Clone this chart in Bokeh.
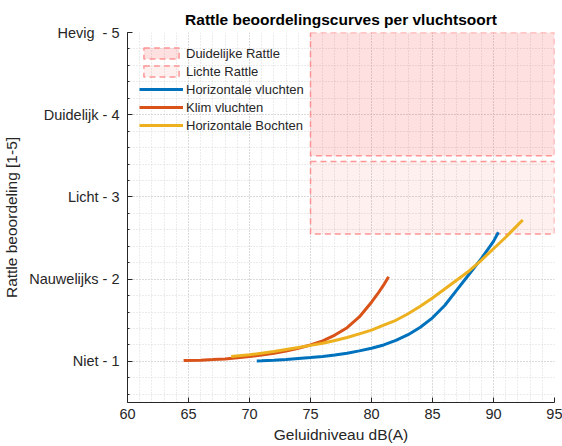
from bokeh.plotting import figure
from bokeh.models import FixedTicker, Range1d, Legend, LegendItem
from bokeh.embed import file_html
from bokeh.resources import INLINE

# ---- data ----
horiz_x = [70.6, 71, 72, 73, 74, 75, 76, 77, 78, 79, 80, 81, 82, 83, 84, 85, 86, 87, 88, 89, 90, 90.4]
horiz_y = [1.005, 1.007, 1.015, 1.024, 1.035, 1.046, 1.06, 1.078, 1.10, 1.128, 1.16, 1.20, 1.255,
           1.325, 1.415, 1.53, 1.68, 1.87, 2.06, 2.25, 2.46, 2.57]

klim_x = [64.6, 66, 67, 68, 69, 70, 71, 72, 73, 74, 75, 76, 77, 78, 79, 80, 80.5, 81, 81.4]
klim_y = [1.01, 1.015, 1.022, 1.03, 1.043, 1.06, 1.078, 1.10, 1.127, 1.16, 1.20, 1.25, 1.32,
          1.41, 1.54, 1.72, 1.82, 1.93, 2.03]

bocht_x = [68.5, 70, 71, 72, 73, 74, 75, 76, 77, 78, 79, 80, 81, 82, 83, 84, 85, 86, 87, 88, 89, 90, 91, 92, 92.4]
bocht_y = [1.06, 1.08, 1.10, 1.12, 1.145, 1.17, 1.195, 1.22, 1.255, 1.29, 1.335, 1.38, 1.44, 1.50,
           1.58, 1.67, 1.77, 1.88, 1.99, 2.10, 2.23, 2.37, 2.51, 2.66, 2.72]

zone_names = ["Duidelijke Rattle", "Lichte Rattle"]
zone_left = [75, 75]
zone_right = [95, 95]
zone_bottom = [3.5, 2.55]
zone_top = [5.0, 3.43]

x_ticks = [60, 65, 70, 75, 80, 85, 90, 95]
y_ticks = [1, 2, 3, 4, 5]
y_tick_labels = ["Niet - 1", "Nauwelijks - 2", "Licht - 3", "Duidelijk - 4", "Hevig \u00a0- 5"]

# ---- figure ----
FONT = "Liberation Sans"
TXT = "#262626"

p = figure(width=562, height=446, output_backend="svg", toolbar_location=None,
           x_range=Range1d(60, 95), y_range=Range1d(0.5, 5.0),
           min_border_left=126, min_border_right=8, min_border_top=32, min_border_bottom=44)
p.outline_line_color = None
p.background_fill_color = "white"

p.title.text = "Rattle beoordelingscurves per vluchtsoort"
p.title.text_font = FONT
p.title.text_font_size = "15.5px"
p.title.text_font_style = "bold"
p.title.align = "center"
p.title.text_color = "black"

p.xaxis.ticker = FixedTicker(ticks=x_ticks, minor_ticks=list(range(60, 96)))
p.yaxis.ticker = FixedTicker(ticks=y_ticks, minor_ticks=[round(0.6 + 0.2 * i, 2) for i in range(23)])
p.yaxis.major_label_overrides = {t: l for t, l in zip(y_ticks, y_tick_labels)}

for ax in (p.xaxis, p.yaxis):
    ax.axis_line_color = TXT
    ax.major_tick_line_color = TXT
    ax.minor_tick_line_color = TXT
    ax.major_tick_in = 5
    ax.major_tick_out = 0
    ax.minor_tick_in = 2
    ax.minor_tick_out = 0
    ax.major_label_text_font = FONT
    ax.major_label_text_font_size = "14.5px"
    ax.major_label_text_color = TXT
    ax.axis_label_text_font = FONT
    ax.axis_label_text_font_size = "15.5px"
    ax.axis_label_text_font_style = "normal"
    ax.axis_label_text_color = TXT
p.xaxis.minor_tick_line_color = None
p.xaxis.axis_label = "Geluidniveau dB(A)"
p.yaxis.axis_label = "Rattle beoordeling [1-5]"
p.xaxis.major_label_standoff = 6
p.xaxis.axis_label_standoff = 4
p.yaxis.major_label_standoff = 8
p.yaxis.axis_label_standoff = 6

for g in (p.xgrid, p.ygrid):
    g.grid_line_color = "#c8c8c8"
    g.grid_line_dash = "1 2"
    g.minor_grid_line_color = "#d8d8d8"
    g.minor_grid_line_dash = "1 2"

# zones
fills = ["#FF0000", "#FF0000"]
alphas = [0.12, 0.06]
zone_r = []
for i in range(2):
    r = p.quad(left=[zone_left[i]], right=[zone_right[i]], bottom=[zone_bottom[i]], top=[zone_top[i]],
               fill_color=fills[i], fill_alpha=alphas[i],
               line_color="#FF8C8C", line_alpha=0.9, line_width=1.5, line_dash="6 4")
    zone_r.append(r)

r1 = p.line(horiz_x, horiz_y, line_color="#0072BD", line_width=3)
r2 = p.line(klim_x, klim_y, line_color="#D95319", line_width=3)
r3 = p.line(bocht_x, bocht_y, line_color="#EDB120", line_width=3)

legend = Legend(items=[
    LegendItem(label=zone_names[0], renderers=[zone_r[0]]),
    LegendItem(label=zone_names[1], renderers=[zone_r[1]]),
    LegendItem(label="Horizontale vluchten", renderers=[r1]),
    LegendItem(label="Klim vluchten", renderers=[r2]),
    LegendItem(label="Horizontale Bochten", renderers=[r3]),
], location="top_left")
legend.background_fill_alpha = 0
legend.border_line_color = None
legend.label_text_font = FONT
legend.label_text_font_size = "13px"
legend.label_text_color = TXT
legend.glyph_width = 44
legend.glyph_height = 14
legend.label_height = 18
legend.spacing = 0
legend.label_standoff = 3
legend.margin = 12
legend.padding = 10
p.add_layout(legend)

open("out.html", "w").write(file_html(p, INLINE))
